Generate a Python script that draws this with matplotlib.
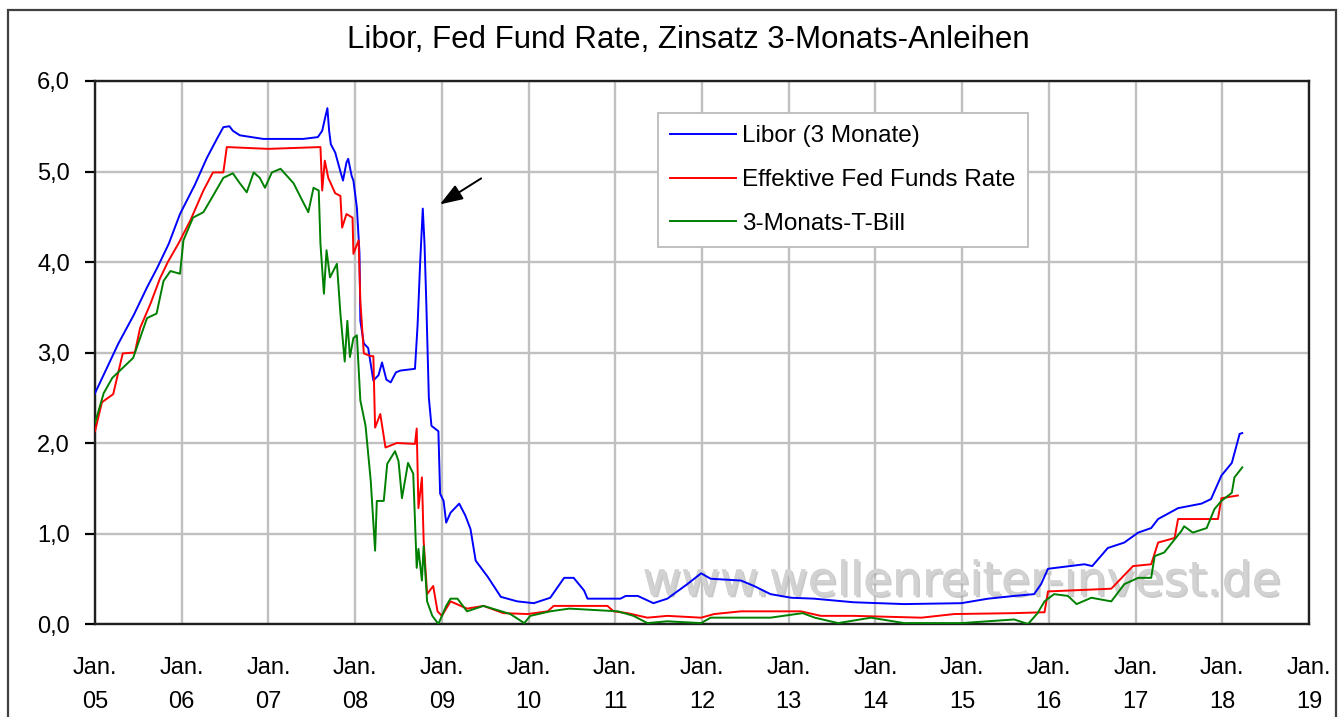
import matplotlib
matplotlib.use("Agg")
import matplotlib.pyplot as plt
from matplotlib.patches import Rectangle
import matplotlib.patheffects as pe

plt.rcParams['font.family'] = ['Liberation Sans', 'DejaVu Sans']

# ---------------- data (decimal years, percent) ----------------
libor_t = [2005.00, 2005.27, 2005.45, 2005.60, 2005.72, 2005.85, 2005.98, 2006.15, 2006.29, 2006.40,
           2006.48, 2006.55, 2006.59, 2006.67, 2006.94, 2007.20, 2007.40, 2007.57, 2007.62, 2007.66,
           2007.68, 2007.70, 2007.72, 2007.77, 2007.83, 2007.86, 2007.90, 2007.92, 2007.96, 2007.98,
           2008.02, 2008.05, 2008.06, 2008.10, 2008.15, 2008.21, 2008.27, 2008.31, 2008.36, 2008.41,
           2008.47, 2008.52, 2008.69, 2008.72, 2008.75, 2008.78, 2008.80, 2008.82, 2008.85, 2008.88,
           2008.96, 2008.98, 2009.02, 2009.05, 2009.10, 2009.20, 2009.27, 2009.33, 2009.39, 2009.53,
           2009.68, 2009.87, 2010.06, 2010.25, 2010.33, 2010.41, 2010.52, 2010.64, 2010.68, 2011.06,
           2011.12, 2011.26, 2011.44, 2011.60, 2011.83, 2011.99, 2012.10, 2012.45, 2012.60, 2012.79,
           2013.03, 2013.29, 2013.75, 2014.33, 2014.99, 2015.30, 2015.60, 2015.83, 2015.91, 2015.99,
           2016.41, 2016.50, 2016.68, 2016.87, 2017.03, 2017.18, 2017.26, 2017.49, 2017.76, 2017.87,
           2017.99, 2018.11, 2018.20, 2018.23]
libor_v = [2.55, 3.10, 3.42, 3.72, 3.94, 4.20, 4.53, 4.85, 5.15, 5.35,
           5.49, 5.50, 5.45, 5.40, 5.36, 5.36, 5.36, 5.38, 5.45, 5.62,
           5.70, 5.45, 5.30, 5.21, 5.00, 4.90, 5.10, 5.14, 4.95, 4.90,
           4.60, 4.10, 3.35, 3.10, 3.05, 2.69, 2.75, 2.89, 2.70, 2.67,
           2.78, 2.80, 2.82, 3.30, 4.00, 4.59, 4.20, 3.57, 2.50, 2.19,
           2.13, 1.44, 1.36, 1.12, 1.23, 1.33, 1.20, 1.05, 0.70, 0.52,
           0.30, 0.25, 0.23, 0.29, 0.40, 0.51, 0.51, 0.37, 0.28, 0.28,
           0.31, 0.31, 0.23, 0.28, 0.44, 0.56, 0.50, 0.48, 0.42, 0.33,
           0.29, 0.28, 0.24, 0.22, 0.23, 0.28, 0.31, 0.33, 0.44, 0.61,
           0.66, 0.64, 0.84, 0.90, 1.01, 1.06, 1.16, 1.28, 1.33, 1.38,
           1.64, 1.78, 2.10, 2.11]

fed_t = [2005.00, 2005.08, 2005.21, 2005.32, 2005.46, 2005.52, 2005.64, 2005.75, 2005.84, 2005.96,
         2006.10, 2006.25, 2006.36, 2006.48, 2006.52, 2007.00, 2007.60, 2007.62, 2007.65, 2007.69,
         2007.77, 2007.83, 2007.85, 2007.90, 2007.97, 2007.98, 2008.04, 2008.06, 2008.10, 2008.18,
         2008.21, 2008.23, 2008.29, 2008.35, 2008.48, 2008.69, 2008.71, 2008.73, 2008.77, 2008.79,
         2008.83, 2008.90, 2008.95, 2009.00, 2009.10, 2009.29, 2009.48, 2009.71, 2009.99, 2010.22,
         2010.29, 2010.56, 2010.91, 2010.98, 2011.14, 2011.37, 2011.60, 2011.99, 2012.14, 2012.45,
         2013.14, 2013.37, 2013.75, 2014.53, 2014.91, 2015.60, 2015.95, 2015.99, 2016.72, 2016.97,
         2017.18, 2017.26, 2017.45, 2017.49, 2017.95, 2017.99, 2018.18]
fed_v = [2.13, 2.45, 2.54, 2.99, 3.00, 3.27, 3.54, 3.82, 4.00, 4.20,
         4.46, 4.79, 4.99, 4.99, 5.27, 5.25, 5.27, 4.79, 5.12, 4.93,
         4.76, 4.73, 4.38, 4.53, 4.49, 4.09, 4.24, 3.57, 2.99, 2.96,
         2.96, 2.17, 2.32, 1.95, 2.00, 1.99, 2.16, 1.28, 1.62, 0.92,
         0.33, 0.42, 0.14, 0.09, 0.25, 0.17, 0.20, 0.12, 0.11, 0.14,
         0.20, 0.20, 0.20, 0.14, 0.12, 0.07, 0.09, 0.07, 0.11, 0.14,
         0.14, 0.09, 0.09, 0.07, 0.11, 0.12, 0.13, 0.36, 0.39, 0.64,
         0.66, 0.90, 0.95, 1.16, 1.16, 1.39, 1.42]

tbill_t = [2005.00, 2005.10, 2005.20, 2005.32, 2005.44, 2005.60, 2005.71, 2005.79, 2005.87, 2005.98,
           2006.02, 2006.13, 2006.25, 2006.36, 2006.48, 2006.59, 2006.67, 2006.75, 2006.83, 2006.90,
           2006.96, 2007.04, 2007.14, 2007.29, 2007.39, 2007.46, 2007.52, 2007.58, 2007.60, 2007.64,
           2007.67, 2007.71, 2007.79, 2007.83, 2007.88, 2007.91, 2007.94, 2007.98, 2008.02, 2008.06,
           2008.12, 2008.18, 2008.23, 2008.25, 2008.33, 2008.37, 2008.46, 2008.50, 2008.54, 2008.61,
           2008.67, 2008.71, 2008.73, 2008.77, 2008.79, 2008.83, 2008.89, 2008.96, 2009.05, 2009.10,
           2009.18, 2009.29, 2009.48, 2009.79, 2009.95, 2010.02, 2010.25, 2010.47, 2011.03, 2011.21,
           2011.37, 2011.60, 2011.99, 2012.10, 2012.45, 2012.79, 2013.16, 2013.30, 2013.57, 2013.95,
           2014.33, 2014.99, 2015.60, 2015.76, 2015.87, 2015.95, 2016.06, 2016.22, 2016.32, 2016.49,
           2016.72, 2016.87, 2017.03, 2017.18, 2017.22, 2017.33, 2017.53, 2017.56, 2017.66, 2017.82,
           2017.91, 2017.99, 2018.11, 2018.14, 2018.23]
tbill_v = [2.22, 2.55, 2.72, 2.83, 2.94, 3.38, 3.43, 3.79, 3.90, 3.87,
           4.24, 4.49, 4.55, 4.73, 4.93, 4.98, 4.87, 4.77, 4.99, 4.93,
           4.82, 4.99, 5.03, 4.87, 4.68, 4.55, 4.82, 4.79, 4.20, 3.65,
           4.13, 3.83, 3.98, 3.43, 2.90, 3.35, 2.95, 3.16, 3.19, 2.47,
           2.19, 1.58, 0.81, 1.36, 1.36, 1.77, 1.91, 1.80, 1.39, 1.78,
           1.66, 0.62, 0.83, 0.48, 0.86, 0.25, 0.09, 0.00, 0.20, 0.28,
           0.28, 0.14, 0.20, 0.11, 0.01, 0.09, 0.14, 0.17, 0.14, 0.09,
           0.01, 0.03, 0.01, 0.07, 0.07, 0.07, 0.12, 0.07, 0.01, 0.07,
           0.01, 0.01, 0.05, 0.00, 0.12, 0.25, 0.33, 0.31, 0.22, 0.29,
           0.25, 0.44, 0.51, 0.51, 0.75, 0.79, 1.03, 1.08, 1.01, 1.06,
           1.27, 1.36, 1.45, 1.62, 1.73]

series_labels = ["Libor (3 Monate)", "Effektive Fed Funds Rate", "3-Monats-T-Bill"]
series_colors = ["#0000ff", "#ff0000", "#008000"]

x_years = list(range(2005, 2020))
x_ticklabels = ["Jan.\n%02d" % (y % 100) for y in x_years]
y_ticks = [0, 1, 2, 3, 4, 5, 6]
y_ticklabels = ["0,0", "1,0", "2,0", "3,0", "4,0", "5,0", "6,0"]

title = "Libor, Fed Fund Rate, Zinsatz 3-Monats-Anleihen"
watermark = "www.wellenreiter-invest.de"

# ---------------- figure ----------------
W, H = 1344, 717
fig = plt.figure(figsize=(W / 100, H / 100), dpi=100)
fig.patch.set_facecolor("white")

# outer chart frame
fig.patches.append(Rectangle((8 / W, -0.05), (1336 - 8) / W, 1.05 - 10 / H,
                             transform=fig.transFigure, fill=False,
                             edgecolor="#404040", linewidth=1.6))

ax = fig.add_axes([95 / W, 1 - 624 / H, (1309 - 95) / W, (624 - 81) / H])

for t, v, lab, col in zip([libor_t, fed_t, tbill_t], [libor_v, fed_v, tbill_v],
                          series_labels, series_colors):
    ax.plot(t, v, color=col, linewidth=1.4, label=lab, zorder=3)

ax.set_xlim(2005, 2019)
ax.set_ylim(0, 6)
ax.set_xticks(x_years)
ax.set_xticklabels(x_ticklabels, fontsize=17, linespacing=1.7)
ax.set_yticks(y_ticks)
ax.set_yticklabels(y_ticklabels, fontsize=17)
ax.tick_params(axis="x", length=0, pad=24)
ax.tick_params(axis="y", length=7, width=1.6, pad=11, direction="out")
ax.grid(True, color="#c0c0c0", linewidth=1.7, zorder=0)
ax.set_axisbelow(True)
for s in ax.spines.values():
    s.set_color("#202020")
    s.set_linewidth(1.7)

# arrow pointing at the Libor spike
ax.annotate("", xy=(2008.95, 4.62), xytext=(2009.48, 4.94),
            arrowprops=dict(arrowstyle="-|>,head_length=1.4,head_width=0.5",
                            color="black", linewidth=1.4))

# watermark
ax.text(0.714, 0.076, watermark, transform=ax.transAxes, ha="center", va="center",
        fontsize=34, color="#d2d2d2", zorder=2, family="DejaVu Sans",
        path_effects=[pe.withSimplePatchShadow(offset=(1.5, -1.5), shadow_rgbFace="#a8a8a8", alpha=0.6),
                      pe.Normal()])

leg = ax.legend(loc="upper left", bbox_to_anchor=(0.464, 0.941), borderaxespad=0,
                fontsize=17.5, frameon=True, fancybox=False, framealpha=1,
                edgecolor="#c0c0c0", handlelength=2.7, handletextpad=0.25,
                labelspacing=0.9, borderpad=0.5)
leg.get_frame().set_linewidth(1.4)

fig.text(688 / W, 1 - 40 / H, title, ha="center", va="center", fontsize=22.5)

fig.savefig("out.png", dpi=100)
